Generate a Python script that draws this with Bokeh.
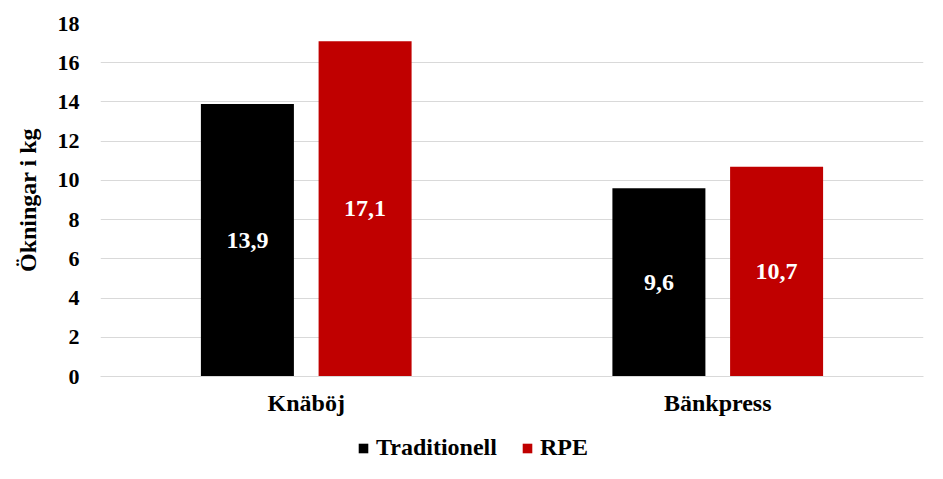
from bokeh.plotting import figure
from bokeh.models import ColumnDataSource, FactorRange, FixedTicker, Legend, LegendItem, Range1d
from bokeh.layouts import column
from bokeh.transform import dodge
from bokeh.core.properties import value
from bokeh.embed import file_html
from bokeh.resources import INLINE

categories = ["Knäböj", "Bänkpress"]
traditionell = [13.9, 9.6]
rpe = [17.1, 10.7]
series_names = ["Traditionell", "RPE"]
series_colors = ["#000000", "#C00000"]
y_ticks = [0, 2, 4, 6, 8, 10, 12, 14, 16, 18]

FONT = "Liberation Serif"

def fmt(v):
    return f"{v:.1f}".replace(".", ",")

src = ColumnDataSource(dict(
    cat=categories,
    trad=traditionell,
    rpe=rpe,
    trad_mid=[v / 2 for v in traditionell],
    rpe_mid=[v / 2 for v in rpe],
    trad_lbl=[fmt(v) for v in traditionell],
    rpe_lbl=[fmt(v) for v in rpe],
))

p = figure(
    x_range=FactorRange(factors=categories, range_padding=0),
    y_range=Range1d(0, 18),
    width=935, height=425,
    output_backend="svg", toolbar_location=None,
    min_border_left=100, min_border_right=12, min_border_top=23, min_border_bottom=49,
)
p.background_fill_color = "white"
p.border_fill_color = "white"
p.outline_line_color = None

OFF = 0.143
W = 0.226
p.vbar(x=dodge("cat", -OFF, range=p.x_range), top="trad", width=W, source=src,
       fill_color=series_colors[0], line_color=None)
p.vbar(x=dodge("cat", OFF, range=p.x_range), top="rpe", width=W, source=src,
       fill_color=series_colors[1], line_color=None)

for xo, ycol, tcol in [(-OFF, "trad_mid", "trad_lbl"), (OFF, "rpe_mid", "rpe_lbl")]:
    p.text(x=dodge("cat", xo, range=p.x_range), y=ycol, text=tcol, source=src,
           text_color="white", text_font=value(FONT), text_font_style="bold",
           text_font_size="24px", text_align="center", text_baseline="middle")

p.xgrid.grid_line_color = None
p.ygrid.grid_line_color = "#d9d9d9"
p.ygrid.grid_line_width = 1

p.yaxis.ticker = FixedTicker(ticks=y_ticks)
p.yaxis.axis_line_color = None
p.yaxis.major_tick_line_color = None
p.yaxis.minor_tick_line_color = None
p.yaxis.major_tick_out = 0
p.yaxis.minor_tick_out = 0
p.yaxis.major_label_standoff = 21
p.yaxis.major_label_text_font = FONT
p.yaxis.major_label_text_font_style = "bold"
p.yaxis.major_label_text_font_size = "22px"
p.yaxis.major_label_text_color = "black"
p.yaxis.axis_label = "Ökningar i kg"
p.yaxis.axis_label_text_font = FONT
p.yaxis.axis_label_text_font_style = "bold"
p.yaxis.axis_label_text_font_size = "24px"
p.yaxis.axis_label_text_color = "black"
p.yaxis.axis_label_standoff = 14

p.xaxis.axis_line_color = "#d9d9d9"
p.xaxis.major_tick_line_color = None
p.xaxis.minor_tick_line_color = None
p.xaxis.major_tick_out = 0
p.xaxis.minor_tick_out = 0
p.xaxis.major_label_standoff = 13
p.xaxis.major_label_text_font = FONT
p.xaxis.major_label_text_font_style = "bold"
p.xaxis.major_label_text_font_size = "24px"
p.xaxis.major_label_text_color = "black"

# legend strip below the chart (its own small figure; dummy glyphs lie outside its range)
lg = figure(width=935, height=46, x_range=Range1d(0, 1), y_range=Range1d(0, 1),
            output_backend="svg", toolbar_location=None,
            x_axis_type=None, y_axis_type=None,
            min_border_left=100, min_border_right=12, min_border_top=0, min_border_bottom=0)
lg.outline_line_color = None
lg.xgrid.grid_line_color = None
lg.ygrid.grid_line_color = None
lg.background_fill_color = "white"
lg.border_fill_color = "white"
items = []
for name, col in zip(series_names, series_colors):
    r = lg.vbar(x=[-5], top=[-5], bottom=[-6], width=0.1, fill_color=col, line_color=None)
    items.append(LegendItem(label=name, renderers=[r]))
legend = Legend(items=items, orientation="horizontal", location=(257, 10))
legend.margin = 0
legend.padding = 0
legend.spacing = 24
legend.border_line_color = None
legend.background_fill_alpha = 0
legend.glyph_width = 12
legend.glyph_height = 12
legend.label_standoff = 7
legend.label_text_font = FONT
legend.label_text_font_style = "bold"
legend.label_text_font_size = "24px"
legend.label_text_color = "black"
lg.add_layout(legend, "center")

layout = column(p, lg, spacing=0)
open("out.html", "w").write(file_html(layout, INLINE))
